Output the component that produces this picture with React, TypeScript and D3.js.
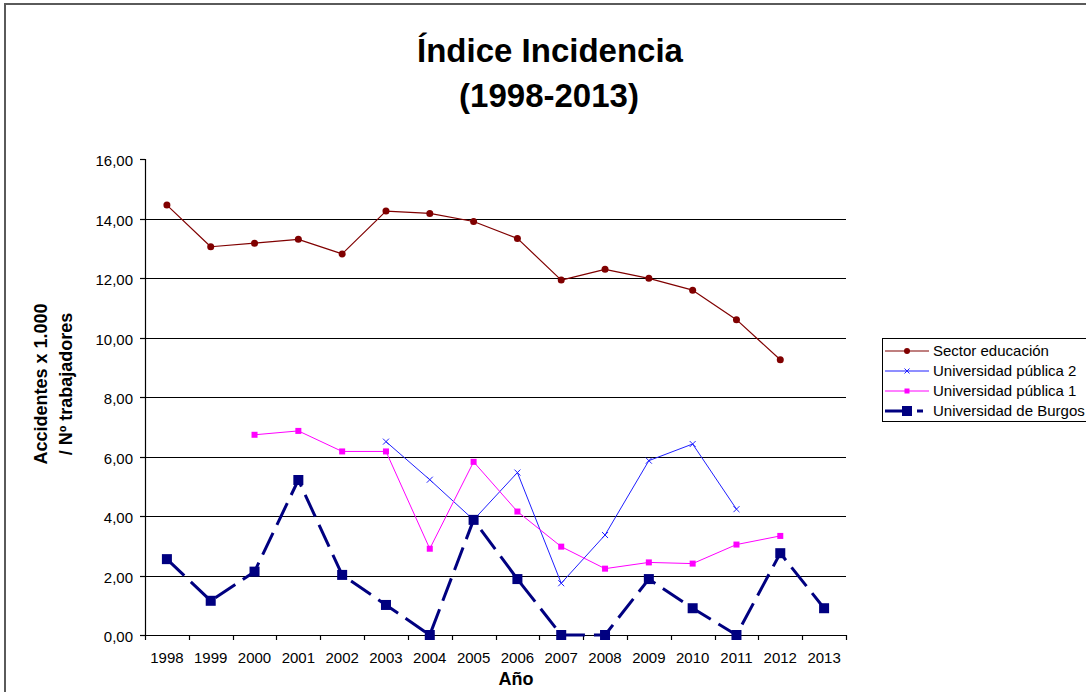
import * as d3 from "d3";
import React, { useEffect, useRef } from "react";

const W = 1086;
const H = 692;

const years = ["1998", "1999", "2000", "2001", "2002", "2003", "2004", "2005",
    "2006", "2007", "2008", "2009", "2010", "2011", "2012", "2013"];

const sectorEducacion = [14.45, 13.05, 13.17, 13.3, 12.81, 14.25, 14.17, 13.9,
    13.33, 11.93, 12.29, 11.99, 11.59, 10.6, 9.25, null];
const uniPublica2 = [null, null, null, null, null, 6.5, 5.22, 3.87,
    5.46, 1.74, 3.36, 5.86, 6.42, 4.23, null, null];
const uniPublica1 = [null, null, 6.73, 6.86, 6.17, 6.17, 2.9, 5.82,
    4.15, 2.97, 2.23, 2.44, 2.4, 3.04, 3.33, null];
const uniBurgos = [2.55, 1.15, 2.13, 5.21, 2.02, 1.01, 0, 3.87,
    1.88, 0, 0, 1.88, 0.9, 0, 2.75, 0.9];

const yTicks = [0, 2, 4, 6, 8, 10, 12, 14, 16];
const gridTicks = [2, 4, 6, 8, 10, 12, 14];

const seriesNames = ["Sector educación", "Universidad pública 2", "Universidad pública 1", "Universidad de Burgos"];

const FONT = "'Liberation Sans', Arial, sans-serif";

// plot area
const pL = 145;
const pR = 846;
const pT = 159;
const pB = 635;

const fmt = (v: number) => d3.format(".2f")(v).replace(".", ",");

type Marker = "circle" | "x" | "square";
const series = [
    { name: seriesNames[0], values: sectorEducacion, color: "#800000", width: 1.2, dash: null, marker: "circle" as Marker, size: 7 },
    { name: seriesNames[1], values: uniPublica2, color: "#1f1fff", width: 1, dash: null, marker: "x" as Marker, size: 6 },
    { name: seriesNames[2], values: uniPublica1, color: "#ff00ff", width: 1, dash: null, marker: "square" as Marker, size: 6 },
    { name: seriesNames[3], values: uniBurgos, color: "#000080", width: 3, dash: "24 9", marker: "square" as Marker, size: 10 },
];

function drawMarker(g: d3.Selection<SVGGElement, unknown, null, undefined>, m: Marker, cx: number, cy: number, size: number, color: string) {
    if (m === "circle") {
        g.append("circle").attr("cx", cx).attr("cy", cy).attr("r", size / 2).attr("fill", color);
    } else if (m === "square") {
        g.append("rect").attr("x", cx - size / 2).attr("y", cy - size / 2)
            .attr("width", size).attr("height", size).attr("fill", color);
    } else {
        const s = size / 2;
        g.append("path")
            .attr("d", `M${cx - s},${cy - s}L${cx + s},${cy + s}M${cx - s},${cy + s}L${cx + s},${cy - s}`)
            .attr("stroke", color).attr("stroke-width", 1).attr("fill", "none");
    }
}

export default function App() {
    const svgRef = useRef<SVGSVGElement | null>(null);

    useEffect(() => {
        if (!svgRef.current) return;
        const svg = d3.select(svgRef.current);
        svg.selectAll("*").remove();

        const x = d3.scaleBand<string>().domain(years).range([pL, pR]).paddingInner(0).paddingOuter(0);
        const xc = (yr: string) => (x(yr) as number) + x.bandwidth() / 2;
        const y = d3.scaleLinear().domain([0, 16]).range([pB, pT]);

        svg.append("rect").attr("width", W).attr("height", H).attr("fill", "#fff");

        // chart border
        svg.append("rect")
            .attr("x", 5).attr("y", 4).attr("width", W + 50).attr("height", H + 50)
            .attr("fill", "none").attr("stroke", "#5a5a5a").attr("stroke-width", 2);

        /* ---------- title ---------- */
        const title = svg.append("text")
            .attr("text-anchor", "middle")
            .attr("font-family", FONT)
            .attr("font-weight", "bold")
            .attr("font-size", "33px")
            .attr("fill", "#000");
        title.append("tspan").attr("x", 550).attr("y", 62).text("Índice Incidencia");
        title.append("tspan").attr("x", 549).attr("y", 107).text("(1998-2013)");

        /* ---------- grid ---------- */
        svg.append("g").selectAll("line").data(gridTicks).join("line")
            .attr("x1", pL).attr("x2", pR)
            .attr("y1", (d) => Math.round(y(d)) + 0.5).attr("y2", (d) => Math.round(y(d)) + 0.5)
            .attr("stroke", "#000").attr("stroke-width", 1.2);

        /* ---------- y axis ---------- */
        const yAxis = svg.append("g");
        yAxis.append("line").attr("x1", pL + 0.5).attr("x2", pL + 0.5).attr("y1", pT).attr("y2", pB)
            .attr("stroke", "#000").attr("stroke-width", 1.2);
        yTicks.forEach((t) => {
            const yy = Math.round(y(t)) + 0.5;
            yAxis.append("line").attr("x1", pL - 5).attr("x2", pL).attr("y1", yy).attr("y2", yy)
                .attr("stroke", "#000").attr("stroke-width", 1.2);
            yAxis.append("text")
                .attr("x", 133).attr("y", yy + 6)
                .attr("text-anchor", "end")
                .attr("font-family", FONT).attr("font-size", "15px").attr("fill", "#000")
                .text(fmt(t));
        });

        /* ---------- x axis ---------- */
        const xAxis = svg.append("g");
        xAxis.append("line").attr("x1", pL).attr("x2", pR).attr("y1", pB + 0.5).attr("y2", pB + 0.5)
            .attr("stroke", "#000").attr("stroke-width", 1.2);
        [...years.map((yr) => x(yr) as number), pR].forEach((bx) => {
            const xx = Math.round(bx) + 0.5;
            xAxis.append("line").attr("x1", xx).attr("x2", xx).attr("y1", pB).attr("y2", pB + 5)
                .attr("stroke", "#000").attr("stroke-width", 1.2);
        });
        years.forEach((yr) => {
            xAxis.append("text")
                .attr("x", xc(yr)).attr("y", 663)
                .attr("text-anchor", "middle")
                .attr("font-family", FONT).attr("font-size", "15px").attr("fill", "#000")
                .text(yr);
        });

        /* ---------- axis titles ---------- */
        svg.append("text")
            .attr("x", 516).attr("y", 685)
            .attr("text-anchor", "middle")
            .attr("font-family", FONT).attr("font-weight", "bold").attr("font-size", "18px")
            .text("Año");

        const yTitle = svg.append("text")
            .attr("transform", "translate(0,384) rotate(-90)")
            .attr("text-anchor", "middle")
            .attr("font-family", FONT).attr("font-weight", "bold").attr("font-size", "18px");
        yTitle.append("tspan").attr("x", 0).attr("y", 47).text("Accidentes x 1.000");
        yTitle.append("tspan").attr("x", 0).attr("y", 72).text("/ Nº trabajadores");

        /* ---------- series ---------- */
        series.forEach((s) => {
            const line = d3.line<number | null>()
                .defined((d) => d !== null)
                .x((_, i) => xc(years[i]))
                .y((d) => y(d as number));
            svg.append("path")
                .datum(s.values)
                .attr("d", line)
                .attr("fill", "none")
                .attr("stroke", s.color)
                .attr("stroke-width", s.width)
                .attr("stroke-dasharray", s.dash)
                .attr("stroke-linejoin", "round");
            const mg = svg.append("g");
            s.values.forEach((v, i) => {
                if (v === null) return;
                drawMarker(mg, s.marker, xc(years[i]), y(v), s.size, s.color);
            });
        });

        /* ---------- legend ---------- */
        const lg = svg.append("g");
        lg.append("rect")
            .attr("x", 882.5).attr("y", 338.5).attr("width", 300).attr("height", 83)
            .attr("fill", "#fff").attr("stroke", "#000").attr("stroke-width", 1);
        series.forEach((s, i) => {
            const cy = 351 + i * 20;
            lg.append("line")
                .attr("x1", 885).attr("x2", 929).attr("y1", cy).attr("y2", cy)
                .attr("stroke", s.color).attr("stroke-width", s.width)
                .attr("stroke-dasharray", s.dash ? "17 15 6 100" : null);
            drawMarker(lg, s.marker, 907, cy, s.marker === "circle" ? 6 : s.size === 10 ? 10 : 5, s.color);
            lg.append("text")
                .attr("x", 933).attr("y", cy + 5)
                .attr("font-family", FONT).attr("font-size", "15px").attr("fill", "#000")
                .text(s.name);
        });
    }, []);

    return (
        <svg ref={svgRef} width={W} height={H}
             style={{ position: "absolute", left: 0, top: 0, display: "block" }}/>
    );
}
